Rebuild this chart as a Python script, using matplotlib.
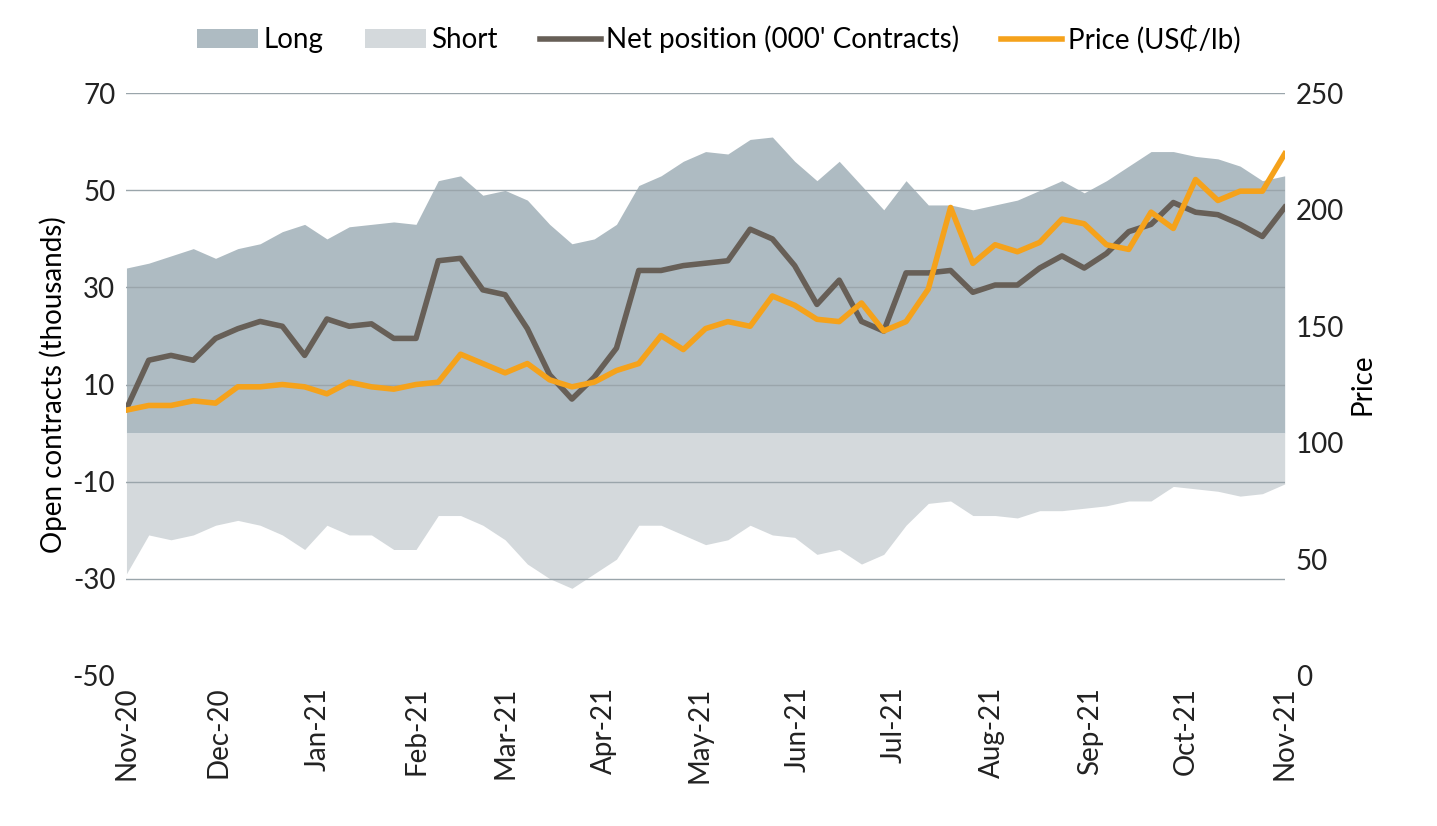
import pandas as pd
import matplotlib.pyplot as plt
import matplotlib.dates as mdates

plt.rcParams['font.family'] = ['Lato', 'DejaVu Sans']
plt.rcParams['axes.unicode_minus'] = False

# weekly data, Nov-20 to Nov-21
long_pos = [34, 35, 36.5, 38, 36, 38, 39, 41.5, 43, 40,
            42.5, 43, 43.5, 43, 52, 53, 49, 50, 48, 43,
            39, 40, 43, 51, 53, 56, 58, 57.5, 60.5, 61,
            56, 52, 56, 51, 46, 52, 47, 47, 46, 47,
            48, 50, 52, 49.5, 52, 55, 58, 58, 57, 56.5,
            55, 52, 53]
short_pos = [-29, -21, -22, -21, -19, -18, -19, -21, -24, -19,
             -21, -21, -24, -24, -17, -17, -19, -22, -27, -30,
             -32, -29, -26, -19, -19, -21, -23, -22, -19, -21,
             -21.5, -25, -24, -27, -25, -19, -14.5, -14, -17, -17,
             -17.5, -16, -16, -15.5, -15, -14, -14, -11, -11.5, -12,
             -13, -12.5, -10.5]
net_pos = [5, 15, 16, 15, 19.5, 21.5, 23, 22, 16, 23.5,
           22, 22.5, 19.5, 19.5, 35.5, 36, 29.5, 28.5, 21.5, 12,
           7, 11.5, 17.5, 33.5, 33.5, 34.5, 35, 35.5, 42, 40,
           34.5, 26.5, 31.5, 23, 21, 33, 33, 33.5, 29, 30.5,
           30.5, 34, 36.5, 34, 37, 41.5, 43, 47.5, 45.5, 45,
           43, 40.5, 46.5]
price = [114, 116, 116, 118, 117, 124, 124, 125, 124, 121,
         126, 124, 123, 125, 126, 138, 134, 130, 134, 127,
         124, 126, 131, 134, 146, 140, 149, 152, 150, 163,
         159, 153, 152, 160, 148, 152, 166, 201, 177, 185,
         182, 186, 196, 194, 185, 183, 199, 192, 213, 204,
         208, 208, 224]

dates = pd.date_range('2020-11-02', periods=len(price), freq='7D')

fig = plt.figure(figsize=(14.37, 8.26), dpi=100)
ax = fig.add_axes([0.088, 0.182, 0.806, 0.705])
ax2 = ax.twinx()

ax.fill_between(dates, 0, long_pos, color='#aebbc2', lw=0, label='Long', zorder=1)
ax.fill_between(dates, 0, short_pos, color='#d4d9dc', lw=0, label='Short', zorder=1)
for v in [-30, -10, 10, 30, 50, 70]:
    ax.axhline(v, color='#9aa5ab', lw=1, zorder=2)
ax.plot(dates, net_pos, color='#675f57', lw=4, label="Net position (000' Contracts)", zorder=3)
ax2.plot(dates, price, color='#f5a21b', lw=4, label='Price (US₵/lb)', zorder=3)

ax.set_ylim(-50, 70)
ax.set_yticks([-50, -30, -10, 10, 30, 50, 70])
ax2.set_ylim(0, 250)
ax2.set_yticks([0, 50, 100, 150, 200, 250])
ax.set_xlim(dates[0], dates[-1])
ticks = pd.date_range('2020-11-01', '2021-11-01', freq='MS')
ticks = [max(min(t, dates[-1]), dates[0]) for t in ticks]
ax.set_xticks(ticks)
ax.xaxis.set_major_formatter(mdates.DateFormatter('%b-%y'))
plt.setp(ax.get_xticklabels(), rotation=90)

for a in (ax, ax2):
    for s in a.spines.values():
        s.set_visible(False)
    a.tick_params(length=0, labelsize=20, colors='#222222', pad=8)
ax.set_ylabel('Open contracts (thousands)', fontsize=20)
ax2.set_ylabel('Price', fontsize=20)

h1, l1 = ax.get_legend_handles_labels()
h2, l2 = ax2.get_legend_handles_labels()
fig.legend(h1 + h2, l1 + l2, loc='upper center', bbox_to_anchor=(0.5, 1.0), ncol=4,
           frameon=False, fontsize=20, handlelength=2.2, handletextpad=0.2, columnspacing=1.5)

fig.savefig('out.png', dpi=100)
